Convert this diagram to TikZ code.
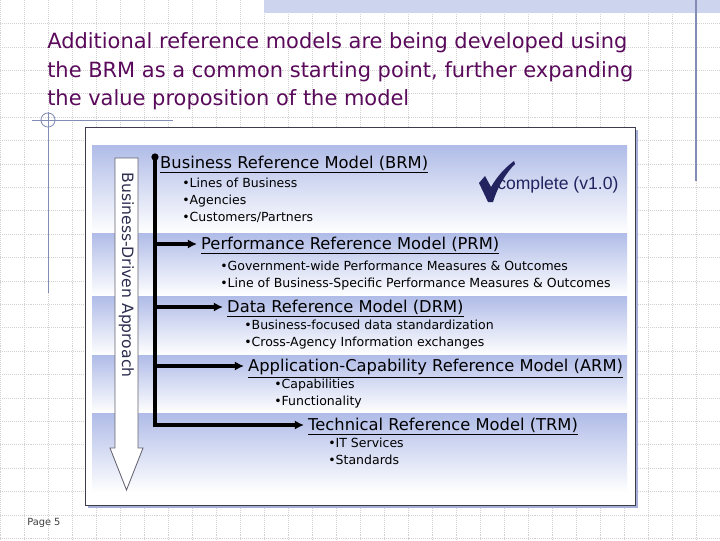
\documentclass[tikz,border=0pt]{standalone}
\usepackage{fontspec}
\setmainfont{DejaVu Sans}
\newfontfamily\arialfont{Liberation Sans}
\usetikzlibrary{positioning,arrows.meta}

\definecolor{titlepurple}{RGB}{90,10,90}
\definecolor{bandblue}{RGB}{176,188,232}
\definecolor{boxedge}{RGB}{60,60,75}
\definecolor{shadowblue}{RGB}{165,175,215}
\definecolor{navy}{RGB}{35,35,95}
\definecolor{drivetext}{RGB}{45,45,80}
\definecolor{slideblue}{RGB}{130,140,180}
\definecolor{slidetop}{RGB}{205,212,238}

\begin{document}
\begin{tikzpicture}[
	x=0.025cm, y=-0.025cm,
	gridline/.style={gray!35, densely dotted, line width=0.4pt},
	slideline/.style={draw=slideblue, line width=0.6pt},
	title/.style={anchor=north west, inner sep=0pt, align=left, text=titlepurple, font=\fontsize{14.9}{20.3}\selectfont},
	band/.style={top color=bandblue, bottom color=white},
	heading/.style={anchor=west, inner xsep=2.8pt, inner ysep=0pt, text height=10pt, text depth=2pt, font=\fontsize{11.6}{14}\selectfont},
	item/.style={inner sep=0pt, align=left, font=\fontsize{8.9}{12.1}\selectfont},
	spine/.style={line width=2.8pt, line cap=rect},
	branch/.style={line width=2.2pt, -{Latex[length=6.5pt,width=6.5pt]}},
	drive/.style={draw=boxedge!80, fill=white, line width=0.6pt},
	drivelabel/.style={rotate=-90, inner sep=0pt, text=drivetext, font=\fontsize{11.1}{13}\selectfont}
]
\useasboundingbox (0,0) rectangle (720,540);
\fill[white] (0,0) rectangle (720,540);

% slide background
\foreach \gx in {0,24,...,720}
	\draw[gridline] (\gx,0) -- (\gx,540);
\foreach \k in {1,...,23}
	\draw[gridline] (0,23.4*\k) -- (720,23.4*\k);
\fill[slidetop] (264,0) rectangle (720,12.5);
\draw[slideline, line width=1.1pt] (696,0) -- (696,181);
\draw[slideline] (32,120) -- (173,120);
\draw[slideline] (48,112) -- (48,293);
\draw[slideline] (48,120) circle (5pt);

\node[title] (title) at (47,32.5) {Additional reference models are being developed using\\the BRM as a common starting point, further expanding\\the value proposition of the model};

% framed panel
\fill[shadowblue] (88,130) rectangle (638,508);
\draw[boxedge, fill=white, line width=0.7pt] (85,127) rectangle (635,505);
\foreach \bt/\bb in {145/233,233/296,296/355,355/413,413/492}
	\shade[band] (92,\bt) rectangle (627,\bb);

% business-driven arrow
\draw[drive] (115,158) -- (138,158) -- (138,448) -- (143,448) -- (126.5,490) -- (110,448) -- (115,448) -- cycle;
\node[drivelabel] (driver) at (126.5,275) {Business-Driven Approach};

% models
\node[heading] (brm) at (156,163) {\underline{Business Reference Model (BRM)}};
\node[item, below right=0.15cm and 0.65cm of brm.south west] (brmitems) {•Lines of Business\\•Agencies\\•Customers/Partners};
\node[heading] (prm) at (197,244) {\underline{Performance Reference Model (PRM)}};
\node[item, below right=0.2cm and 0.575cm of prm.south west] (prmitems) {•Government-wide Performance Measures \& Outcomes\\•Line of Business-Specific Performance Measures \& Outcomes};
\node[heading] (drm) at (223,307) {\underline{Data Reference Model (DRM)}};
\node[item, below right=0.1cm and 0.525cm of drm.south west] (drmitems) {•Business-focused data standardization\\•Cross-Agency Information exchanges};
\node[heading] (arm) at (244,366) {\underline{Application-Capability Reference Model (ARM)}};
\node[item, below right=0.1cm and 0.75cm of arm.south west] (armitems) {•Capabilities\\•Functionality};
\node[heading] (trm) at (304,425) {\underline{Technical Reference Model (TRM)}};
\node[item, below right=0.1cm and 0.6cm of trm.south west] (trmitems) {•IT Services\\•Standards};

% status of the BRM
\fill[navy] (479,183) -- (485,176) -- (491,187) .. controls (498,175) and (506,167) .. (514,161) -- (515,164) .. controls (506,173) and (498,186) .. (493,202) -- (488,202) -- cycle;
\node[anchor=west, inner sep=0pt, text=navy, font=\arialfont\fontsize{12.5}{14}\selectfont] (status) at (497,185) {complete (v1.0)};

% spine and branches
\coordinate (spinetop) at (155,157);
\coordinate (onprm) at (155,244);
\coordinate (ondrm) at (155,307);
\coordinate (onarm) at (155,366);
\coordinate (spineend) at (155,425);
\fill (spinetop) circle (2.6pt);
\draw[spine] (spinetop) -- (spineend);
\draw[branch] (onprm) -- (prm.west);
\draw[branch] (ondrm) -- (drm.west);
\draw[branch] (onarm) -- (arm.west);
\draw[branch] (spineend) -- (trm.west);

\node[anchor=west, inner sep=0pt, text=black!75, font=\fontsize{7}{8}\selectfont] (page) at (27,523) {Page 5};
\end{tikzpicture}
\end{document}
